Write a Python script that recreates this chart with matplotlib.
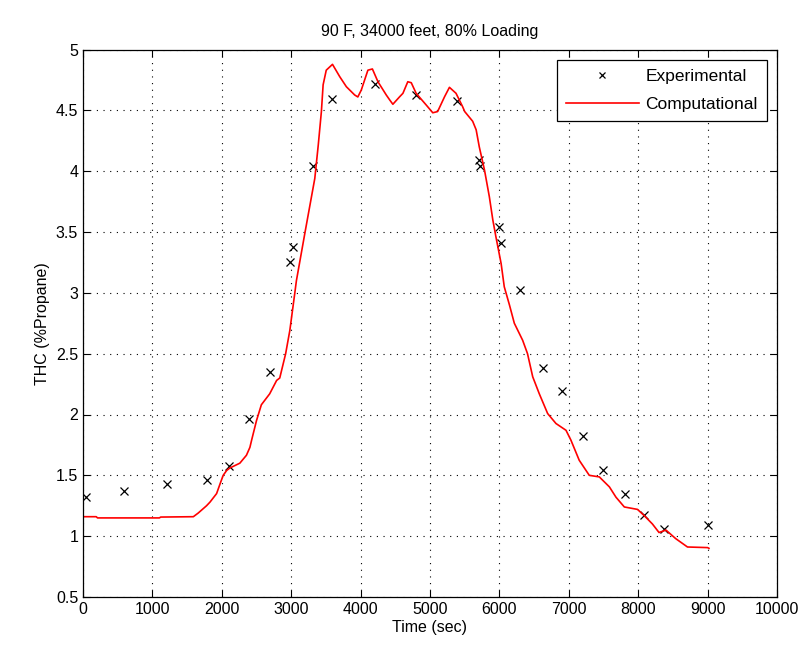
import numpy as np
import matplotlib
matplotlib.use('Agg')
import matplotlib.pyplot as plt
from matplotlib.ticker import FuncFormatter

plt.rcParams['font.family'] = ['Liberation Sans', 'DejaVu Sans']

# experimental points (time s, THC %)
exp_t = [40, 590, 1210, 1790, 2100, 2390, 2690, 2980, 3025, 3315, 3595,
         4210, 4800, 5395, 5700, 5720, 5990, 6025, 6300, 6625, 6900,
         7200, 7495, 7805, 8085, 8375, 9010]
exp_thc = [1.32, 1.37, 1.43, 1.46, 1.58, 1.96, 2.35, 3.25, 3.38, 4.04, 4.59,
           4.72, 4.63, 4.58, 4.09, 4.04, 3.54, 3.41, 3.02, 2.38, 2.19,
           1.82, 1.54, 1.35, 1.17, 1.06, 1.09]

# computational curve
comp_t = [0, 190, 210, 1100, 1120, 1590, 1660, 1780, 1830, 1925, 1975, 2020,
          2070, 2115, 2260, 2355, 2405, 2430, 2500, 2570, 2690, 2790, 2835,
          2920, 2980, 3050, 3075, 3200, 3340, 3390, 3435, 3460, 3505, 3595,
          3700, 3795, 3915, 3960, 4010, 4105, 4170, 4250, 4370, 4420, 4465,
          4560, 4610, 4680, 4730, 4800, 4945, 5040, 5110, 5210, 5280, 5375,
          5470, 5500, 5615, 5665, 5710, 5785, 5855, 5905, 5950, 6025, 6070,
          6145, 6215, 6335, 6405, 6480, 6575, 6695, 6815, 6960, 7030, 7150,
          7295, 7440, 7585, 7680, 7800, 7990, 8085, 8205, 8300, 8400, 8540,
          8710, 9000, 9020]
comp_thc = [1.16, 1.16, 1.15, 1.15, 1.157, 1.16, 1.19, 1.25, 1.28, 1.35, 1.43, 1.50,
            1.54, 1.56, 1.60, 1.665, 1.73, 1.79, 1.95, 2.08, 2.17, 2.28, 2.30,
            2.50, 2.69, 2.99, 3.10, 3.50, 3.94, 4.215, 4.49, 4.71, 4.83, 4.878,
            4.776, 4.694, 4.626, 4.61, 4.667, 4.83, 4.84, 4.735, 4.626, 4.585, 4.55,
            4.61, 4.64, 4.735, 4.727, 4.64, 4.544, 4.48, 4.49, 4.612, 4.689, 4.64,
            4.53, 4.49, 4.41, 4.34, 4.20, 4.01, 3.79, 3.60, 3.46, 3.24, 3.05,
            2.90, 2.75, 2.61, 2.50, 2.31, 2.17, 2.008, 1.926, 1.87, 1.79, 1.624,
            1.50, 1.487, 1.405, 1.32, 1.24, 1.22, 1.17, 1.10, 1.03, 1.05, 0.98,
            0.911, 0.906, 0.90]

fig = plt.figure(figsize=(8.07, 6.52), dpi=100)
ax = fig.add_axes([83 / 807, 55 / 652, 694 / 807, 547.5 / 652])

ax.plot(exp_t, exp_thc, 'x', color='black', markersize=6, markeredgewidth=0.9,
        label='Experimental')
ax.plot(comp_t, comp_thc, '-', color='red', lw=1.2, label='Computational')

ax.set_xlim(0, 10000)
ax.set_ylim(0.5, 5)
ax.set_xticks(np.arange(0, 10001, 1000))
ax.set_yticks(np.arange(0.5, 5.01, 0.5))
ax.yaxis.set_major_formatter(FuncFormatter(lambda v, p: '%g' % v))
ax.grid(True, color='black', linestyle=(0, (1, 5)), linewidth=0.8)
ax.tick_params(direction='in', top=True, right=True, labelsize=11.5, length=5)
for s in ax.spines.values():
    s.set_linewidth(0.9)

ax.set_title('90 F, 34000 feet, 80% Loading', fontsize=11.5, pad=10)
ax.set_xlabel('Time (sec)', fontsize=11.5, labelpad=2)
ax.set_ylabel('THC (%Propane)', fontsize=11.5, labelpad=4)

leg = ax.legend(loc='upper right', fontsize=12.5, fancybox=False, framealpha=1,
                edgecolor='black', borderaxespad=0.6, handlelength=4.2,
                handletextpad=0.4, labelspacing=0.75, borderpad=0.5,
                markerscale=0.75)
leg.get_frame().set_linewidth(0.9)

fig.savefig('out.png', dpi=100, facecolor='white')
